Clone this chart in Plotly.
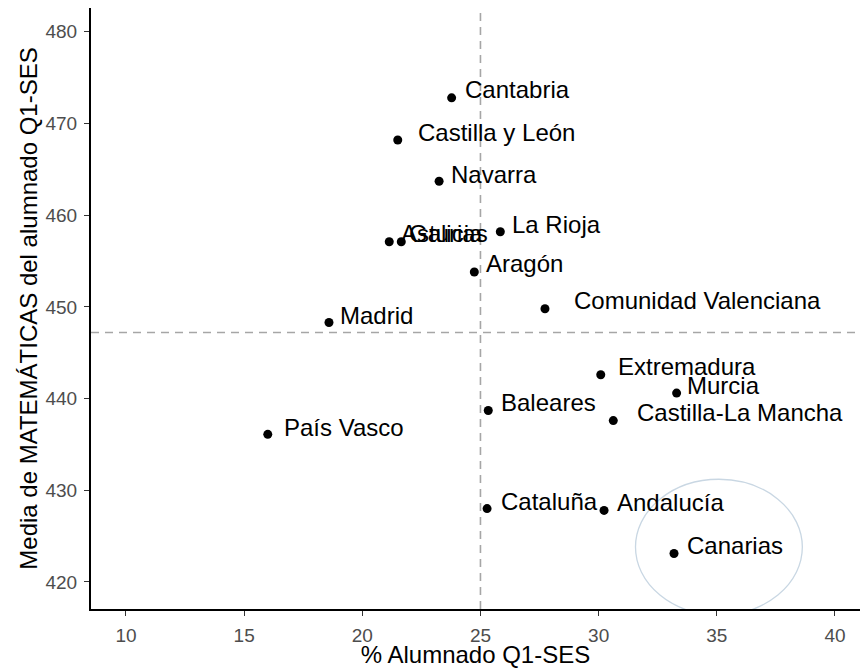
import plotly.graph_objects as go

# data
regiones = ['Cantabria', 'Castilla y León', 'Navarra', 'Asturias', 'Galicia', 'La Rioja',
            'Aragón', 'Comunidad Valenciana', 'Madrid', 'Extremadura', 'Murcia',
            'Castilla-La Mancha', 'Baleares', 'País Vasco', 'Cataluña', 'Andalucía', 'Canarias']
pct_q1 = [23.78, 21.50, 23.25, 21.14, 21.65, 25.84,
          24.74, 27.73, 18.59, 30.09, 33.30,
          30.62, 25.33, 16.00, 25.28, 30.23, 33.19]
media_mat = [472.8, 468.2, 463.7, 457.1, 457.1, 458.2,
             453.8, 449.8, 448.3, 442.6, 440.6,
             437.6, 438.7, 436.1, 428.0, 427.8, 423.1]
media_x = 25.0
media_y = 447.2

# label nudges in pixels (dx, dy up)
nudge = [(11, 8), (18, 8), (10, 7), (10, 8), (6, 8), (10, 7),
         (10, 9), (27, 8), (9, 7), (15, 8), (8, 8),
         (22, 8), (11, 8), (14, 7), (12, 7), (11, 8), (11, 8)]

FONT = 'Liberation Sans, Arial, sans-serif'

fig = go.Figure()

fig.add_trace(go.Scatter(x=pct_q1, y=media_mat, mode='markers',
                         marker=dict(color='black', size=9),
                         text=regiones, hoverinfo='text', showlegend=False))

anns = []
for nombre, x, y, (dx, dy) in zip(regiones, pct_q1, media_mat, nudge):
    anns.append(dict(x=x, y=y, text=nombre, showarrow=False,
                     xanchor='left', yanchor='middle', xshift=dx, yshift=dy,
                     font=dict(family=FONT, size=24, color='black')))

fig.update_layout(
    width=864, height=668,
    margin=dict(l=91, r=4, t=8, b=59),
    plot_bgcolor='white', paper_bgcolor='white',
    font=dict(family=FONT),
    annotations=anns,
    shapes=[
        dict(type='line', xref='x', yref='paper', x0=media_x, x1=media_x, y0=0, y1=1,
             line=dict(color='#a6a6a6', width=1.6, dash='8px,6px'), layer='below'),
        dict(type='line', xref='paper', yref='y', x0=0, x1=1, y0=media_y, y1=media_y,
             line=dict(color='#a6a6a6', width=1.6, dash='8px,6px'), layer='below'),
        dict(type='circle', xref='x', yref='y', x0=31.56, x1=38.62, y0=416.4, y1=431.2,
             line=dict(color='#c9d7e3', width=1.3)),
    ],
)

fig.update_xaxes(range=[8.52, 41.06], tickvals=[10, 15, 20, 25, 30, 35, 40],
                 showgrid=False, zeroline=False, automargin=False,
                 showline=True, linecolor='black', linewidth=2,
                 ticks='outside', ticklen=5, tickwidth=1.3, tickcolor='#333333',
                 tickfont=dict(size=19, color='#4d4d4d'), ticklabelstandoff=3,
                 title=dict(text='% Alumnado Q1-SES', font=dict(size=24, color='black'), standoff=4))
fig.update_yaxes(range=[417.05, 482.6], tickvals=[420, 430, 440, 450, 460, 470, 480],
                 showgrid=False, zeroline=False, automargin=False,
                 showline=True, linecolor='black', linewidth=2,
                 ticks='outside', ticklen=5, tickwidth=1.3, tickcolor='#333333',
                 tickfont=dict(size=19, color='#4d4d4d'), ticklabelstandoff=3,
                 title=dict(text='Media de MATEMÁTICAS del alumnado Q1-SES',
                            font=dict(size=24, color='black'), standoff=1))

# the page body has a default 8px margin; drop it so the figure sits at the corner
fig.write_html('out.html', config={'displayModeBar': False},
               post_script="document.body.style.margin='0';")
